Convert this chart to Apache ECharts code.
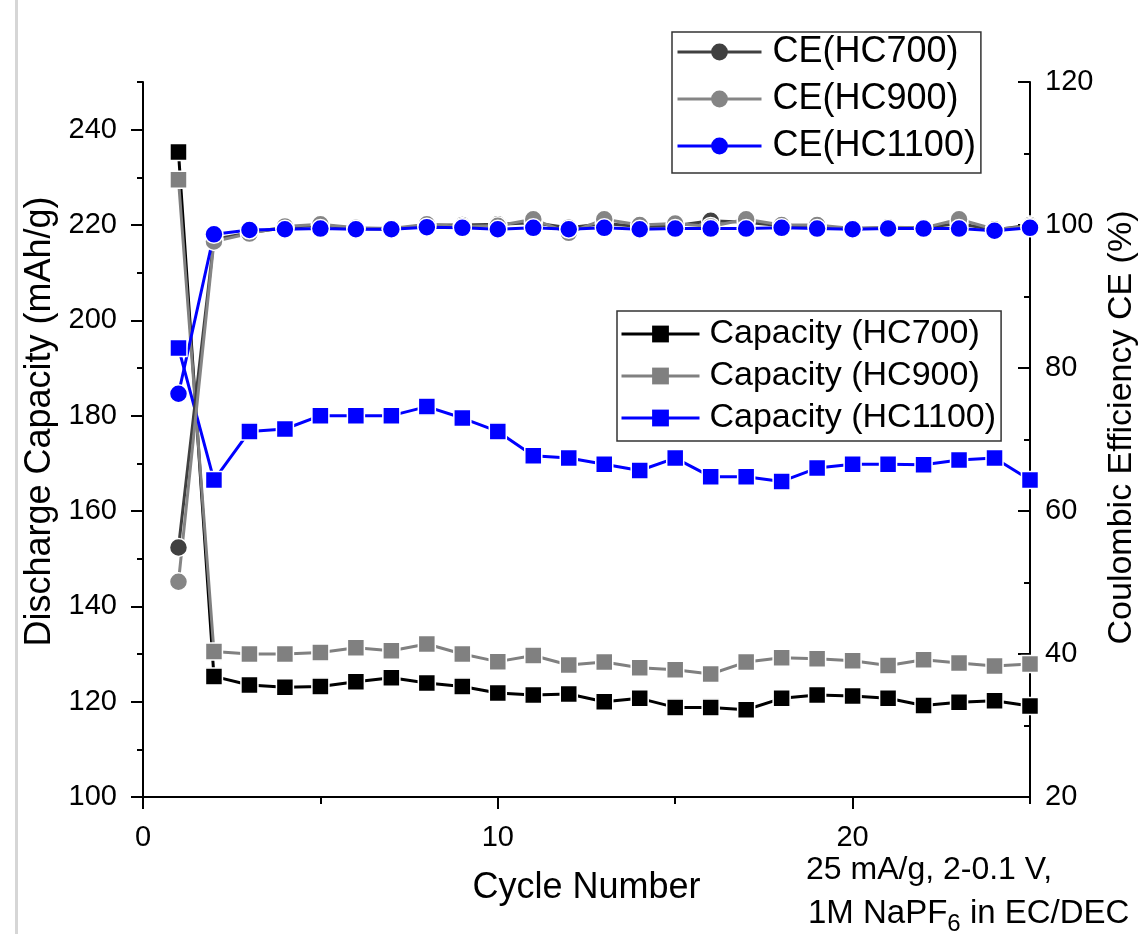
<!DOCTYPE html>
<html>
<head>
<meta charset="utf-8">
<script src="https://cdn.jsdelivr.net/npm/echarts@6/dist/echarts.min.js"></script>
<style>
html, body { margin: 0; padding: 0; background: #fff; }
#chart { width: 1140px; height: 934px; }
</style>
</head>
<body>
<div id="chart"></div>
<script>
var cycles = [1, 2, 3, 4, 5, 6, 7, 8, 9, 10, 11, 12, 13, 14, 15, 16, 17, 18, 19, 20, 21, 22, 23, 24, 25];

// discharge capacity, mAh/g (left axis)
var capHC700 = [235.3, 125.3, 123.5, 123.0, 123.2, 124.2, 125.0, 123.9, 123.2, 121.8, 121.4, 121.6, 120.0, 120.7, 118.8, 118.8, 118.3, 120.7, 121.4, 121.2, 120.7, 119.2, 119.9, 120.2, 119.1];
var capHC900 = [229.5, 130.5, 130.0, 130.0, 130.3, 131.3, 130.7, 132.1, 130.0, 128.4, 129.7, 127.7, 128.3, 127.1, 126.7, 125.8, 128.3, 129.2, 129.0, 128.6, 127.6, 128.8, 128.1, 127.5, 127.9];
var capHC1100 = [194.2, 166.5, 176.7, 177.2, 180.0, 180.0, 180.0, 181.9, 179.5, 176.7, 171.6, 171.1, 169.8, 168.5, 171.1, 167.2, 167.2, 166.2, 169.0, 169.8, 169.8, 169.7, 170.7, 171.1, 166.5];

// coulombic efficiency, % (right axis)
var ceHC700 = [54.9, 98.0, 98.9, 99.6, 100.0, 99.5, 99.4, 100.0, 100.0, 100.1, 100.3, 99.6, 100.2, 99.8, 99.9, 100.6, 100.4, 99.9, 99.8, 99.5, 99.6, 99.6, 100.2, 99.3, 100.0];
var ceHC900 = [50.1, 97.7, 98.8, 99.8, 100.1, 99.6, 99.5, 100.1, 99.8, 99.9, 100.8, 98.9, 100.8, 100.0, 100.2, 99.8, 100.8, 100.0, 100.0, 99.5, 99.7, 99.6, 100.8, 99.4, 99.8];
var ceHC1100 = [76.4, 98.7, 99.3, 99.4, 99.5, 99.4, 99.4, 99.7, 99.6, 99.4, 99.6, 99.4, 99.6, 99.4, 99.5, 99.5, 99.5, 99.6, 99.5, 99.4, 99.5, 99.5, 99.5, 99.2, 99.6];

var xMajorTicks = [0, 10, 20];
var leftMajorTicks = [100, 120, 140, 160, 180, 200, 220, 240];

var FONT = '"Liberation Sans", Arial, sans-serif';

function pairs(ys) {
    return ys.map(function (y, i) { return [cycles[i], y]; });
}

function lineSeries(name, ys, color, symbol, size, yIndex) {
    return {
        name: name,
        type: 'line',
        yAxisIndex: yIndex,
        data: pairs(ys),
        symbol: symbol,
        symbolSize: size,
        clip: false,
        color: color,
        lineStyle: { color: color, width: 3 },
        itemStyle: { color: color, borderColor: '#fff', borderWidth: 1.5 },
        emphasis: { disabled: true },
        animation: false
    };
}

var myChart = echarts.init(document.getElementById('chart'));

myChart.setOption({
    backgroundColor: '#fff',
    animation: false,
    grid: { left: 143, right: 110, top: 82, bottom: 137, outerBoundsMode: 'none', containLabel: false },
    legend: [{
        data: ['CE(HC700)', 'CE(HC900)', 'CE(HC1100)'],
        orient: 'vertical',
        left: 672,
        top: 32,
        padding: [0, 5, 7, 4],
        itemGap: 7,
        itemWidth: 84,
        itemHeight: 21,
        borderColor: '#333',
        borderWidth: 1.5,
        selectedMode: false,
        lineStyle: { width: 3 },
        itemStyle: { borderWidth: 0 },
        textStyle: { fontSize: 36, lineHeight: 40, color: '#000', fontFamily: FONT, padding: [0, 0, 0, 6] }
    }, {
        data: ['Capacity (HC700)', 'Capacity (HC900)', 'Capacity (HC1100)'],
        orient: 'vertical',
        left: 617,
        top: 311,
        padding: [5, 5, 5, 3],
        itemGap: 6,
        itemWidth: 78,
        itemHeight: 21,
        borderColor: '#333',
        borderWidth: 1.5,
        selectedMode: false,
        lineStyle: { width: 3 },
        itemStyle: { borderWidth: 0 },
        textStyle: { fontSize: 34, lineHeight: 36, color: '#000', fontFamily: FONT, padding: [0, 0, 0, 5] }
    }],
    xAxis: [{
        type: 'value',
        min: 0,
        max: 25,
        interval: 5,
        name: 'Cycle Number',
        nameLocation: 'middle',
        nameGap: 73,
        nameTextStyle: { fontSize: 36, color: '#000', fontFamily: FONT },
        axisLine: { onZero: false, lineStyle: { color: '#000', width: 2 } },
        axisTick: { length: 7, lineStyle: { color: '#000', width: 2 } },
        axisLabel: {
            fontSize: 29, color: '#000', fontFamily: FONT, margin: 26,
            formatter: function (v) { return xMajorTicks.indexOf(v) >= 0 ? String(v) : ''; }
        },
        splitLine: { show: false }
    }, {
        // long ticks at the labelled positions
        type: 'value',
        min: 0,
        max: 25,
        interval: 5,
        position: 'bottom',
        axisLine: { show: false, onZero: false },
        axisTick: { length: 12, customValues: xMajorTicks, lineStyle: { color: '#000', width: 2 } },
        axisLabel: { show: false },
        splitLine: { show: false }
    }],
    yAxis: [{
        type: 'value',
        position: 'left',
        min: 100,
        max: 250,
        interval: 10,
        name: 'Discharge Capacity (mAh/g)',
        nameLocation: 'middle',
        nameRotate: 90,
        nameGap: 75,
        nameTextStyle: { fontSize: 36, color: '#000', fontFamily: FONT, padding: [0, 0, 0, 36] },
        axisLine: { show: true, onZero: false, lineStyle: { color: '#000', width: 2 } },
        axisTick: { length: 6, lineStyle: { color: '#000', width: 2 } },
        axisLabel: {
            fontSize: 29, color: '#000', fontFamily: FONT, margin: 26,
            formatter: function (v) { return leftMajorTicks.indexOf(v) >= 0 ? String(v) : ''; }
        },
        splitLine: { show: false }
    }, {
        type: 'value',
        position: 'right',
        min: 20,
        max: 120,
        interval: 20,
        name: 'Coulombic Efficiency CE (%)',
        nameLocation: 'middle',
        nameRotate: 90,
        nameGap: 66,
        nameTextStyle: { fontSize: 34, color: '#000', fontFamily: FONT, padding: [0, 0, 0, 24] },
        axisLine: { show: true, onZero: false, lineStyle: { color: '#000', width: 2 } },
        axisTick: { inside: true, length: 12, lineStyle: { color: '#000', width: 2 } },
        minorTick: { show: true, splitNumber: 2, length: 6, lineStyle: { color: '#000', width: 2 } },
        axisLabel: { fontSize: 29, color: '#000', fontFamily: FONT, margin: 15 },
        splitLine: { show: false }
    }, {
        // long ticks for the left axis
        type: 'value',
        position: 'left',
        min: 100,
        max: 250,
        interval: 10,
        axisLine: { show: false, onZero: false },
        axisTick: { length: 12, customValues: leftMajorTicks, lineStyle: { color: '#000', width: 2 } },
        axisLabel: { show: false },
        splitLine: { show: false }
    }],
    graphic: [{
        type: 'rect',
        shape: { x: 15, y: 0, width: 3, height: 934 },
        style: { fill: '#d6d6d6' },
        silent: true
    }, {
        type: 'text',
        x: 806,
        y: 870,
        style: {
            text: '25 mA/g, 2-0.1 V,',
            fontSize: 32, fontFamily: FONT, fill: '#000',
            verticalAlign: 'middle'
        }
    }, {
        type: 'text',
        x: 808,
        y: 892,
        style: {
            text: '1M NaPF{sub|6} in EC/DEC',
            fontSize: 33, fontFamily: FONT, fill: '#000',
            lineHeight: 44,
            verticalAlign: 'top',
            rich: {
                sub: { fontSize: 24, lineHeight: 20, verticalAlign: 'bottom', fontFamily: FONT, fill: '#000' }
            }
        }
    }],
    series: [
        lineSeries('Capacity (HC700)', capHC700, '#000000', 'rect', 17, 0),
        lineSeries('Capacity (HC900)', capHC900, '#808080', 'rect', 17, 0),
        lineSeries('Capacity (HC1100)', capHC1100, '#0000ff', 'rect', 17, 0),
        lineSeries('CE(HC700)', ceHC700, '#404040', 'circle', 18, 1),
        lineSeries('CE(HC900)', ceHC900, '#858585', 'circle', 18, 1),
        lineSeries('CE(HC1100)', ceHC1100, '#0000ff', 'circle', 18, 1)
    ]
});
</script>
</body>
</html>
